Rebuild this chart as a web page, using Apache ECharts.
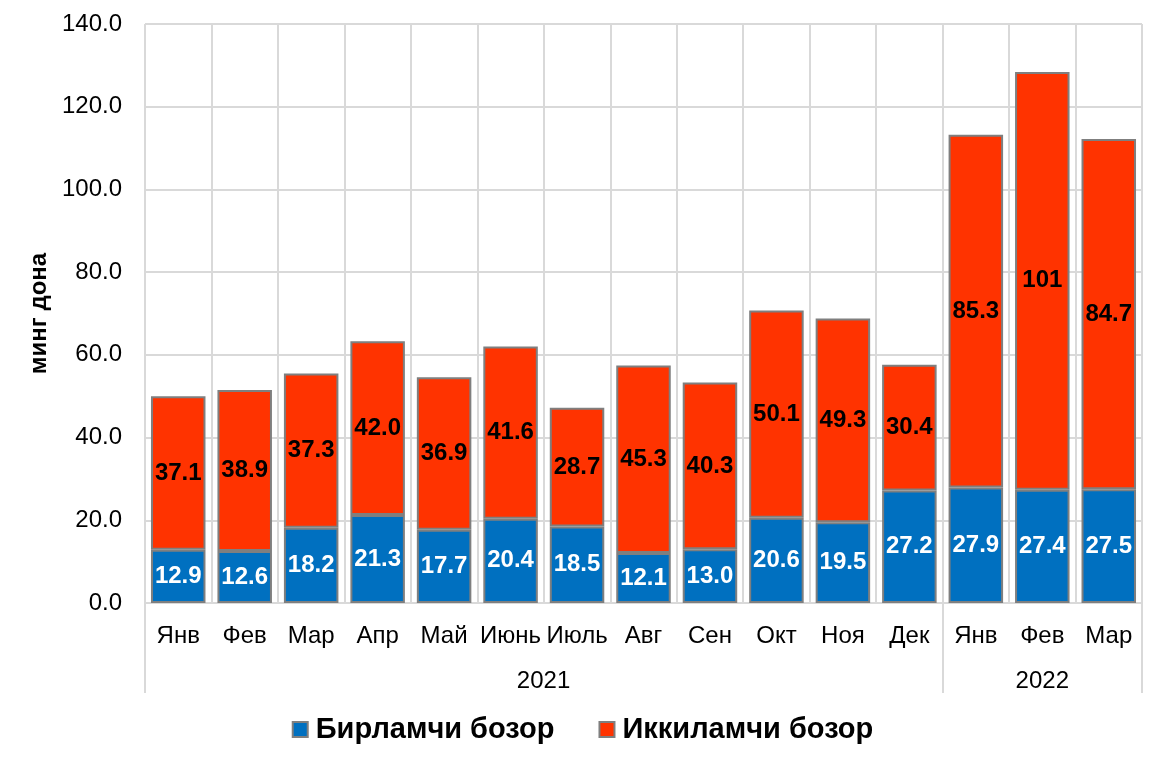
<!DOCTYPE html>
<html>
<head>
<meta charset="utf-8">
<script src="https://cdn.jsdelivr.net/npm/echarts@6/dist/echarts.min.js"></script>
<style>
html,body{margin:0;padding:0;background:#fff;}
#c{width:1165px;height:762px;}
</style>
</head>
<body>
<div id="c"></div>
<script>
var months = ['Янв','Фев','Мар','Апр','Май','Июнь','Июль','Авг','Сен','Окт','Ноя','Дек','Янв','Фев','Мар'];
var years = ['','','','','','2021','','','','','','','','2022',''];
var primary = [12.9,12.6,18.2,21.3,17.7,20.4,18.5,12.1,13.0,20.6,19.5,27.2,27.9,27.4,27.5];
var secondary = [37.1,38.9,37.3,42.0,36.9,41.6,28.7,45.3,40.3,50.1,49.3,30.4,85.3,101,84.7];
var seriesNames = ['Бирламчи бозор','Иккиламчи бозор'];

var FONT = 'Liberation Sans, Arial, sans-serif';
function fmt(v){ return v >= 100 ? String(Math.round(v)) : v.toFixed(1); }

var chart = echarts.init(document.getElementById('c'));
chart.setOption({
  animation: false,
  textStyle: {fontFamily: FONT},
  grid: {left: 145, right: 23, top: 24, bottom: 159, containLabel: false},
  legend: {
    bottom: 13,
    left: 'center',
    itemWidth: 15, itemHeight: 15, itemGap: 44,
    icon: 'rect',
    textStyle: {fontSize: 29, fontWeight: 'bold', color: '#000', fontFamily: FONT, padding: [0, 0, 0, 3]},
    itemStyle: {borderColor: '#7f7f7f', borderWidth: 2},
    data: seriesNames
  },
  xAxis: [{
    type: 'category',
    data: months,
    axisLine: {show: true, lineStyle: {color: '#d9d9d9', width: 2}},
    axisTick: {show: false},
    splitLine: {show: true, interval: 0, lineStyle: {color: '#d9d9d9', width: 2}},
    axisLabel: {interval: 0, hideOverlap: false, fontSize: 24, color: '#000', margin: 21, fontFamily: FONT}
  }, {
    type: 'category',
    data: years,
    position: 'bottom',
    offset: 90,
    axisLine: {show: false},
    axisTick: {show: true, inside: true, length: 90,
      interval: function(i){ return i === 0 || i === 12; },
      lineStyle: {color: '#d9d9d9', width: 2}},
    splitLine: {show: false},
    axisLabel: {
      inside: true, margin: 0, interval: 0, hideOverlap: false,
      fontSize: 24, color: '#000', fontFamily: FONT,
      formatter: function(v, i){ return i === 5 ? '{a|' + v + '}' : v; },
      rich: {a: {fontSize: 24, color: '#000', fontFamily: FONT, padding: [0, 0, 0, 66]}}
    }
  }],
  yAxis: {
    type: 'value',
    min: 0, max: 140, interval: 20,
    name: 'минг дона',
    nameLocation: 'middle',
    nameGap: 90,
    nameRotate: 90,
    nameTextStyle: {fontSize: 24, fontWeight: 'bold', color: '#000', fontFamily: FONT},
    axisLine: {show: false},
    axisTick: {show: false},
    splitLine: {lineStyle: {color: '#d9d9d9', width: 2}},
    axisLabel: {fontSize: 24, color: '#000', margin: 23, fontFamily: FONT,
      formatter: function(v){ return v.toFixed(1); }}
  },
  series: [{
    name: seriesNames[0],
    type: 'bar',
    stack: 's',
    data: primary,
    barWidth: '82%',
    itemStyle: {color: '#0070C0', borderColor: '#7f7f7f', borderWidth: 2},
    label: {show: true, position: 'inside', color: '#fff', fontSize: 24, fontWeight: 'bold', fontFamily: FONT,
      formatter: function(p){ return fmt(p.value); }}
  }, {
    name: seriesNames[1],
    type: 'bar',
    stack: 's',
    data: secondary,
    barWidth: '82%',
    itemStyle: {color: '#FF3300', borderColor: '#7f7f7f', borderWidth: 2},
    label: {show: true, position: 'inside', color: '#000', fontSize: 24, fontWeight: 'bold', fontFamily: FONT,
      formatter: function(p){ return fmt(p.value); }}
  }]
});
</script>
</body>
</html>
